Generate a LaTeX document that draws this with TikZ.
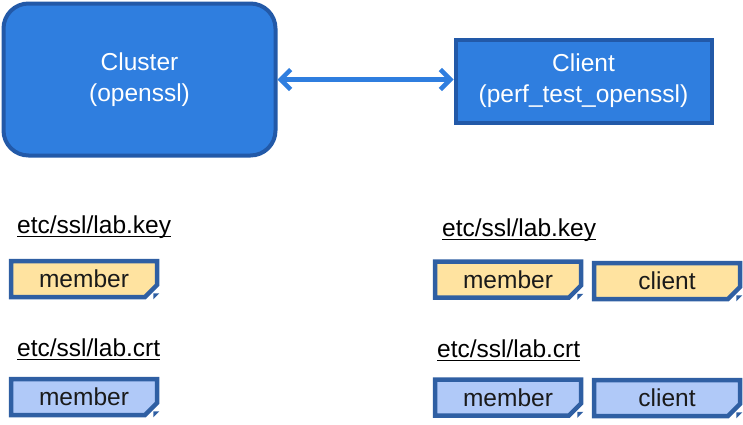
\documentclass[tikz,border=0pt]{standalone}
\usepackage{fontspec}
\setmainfont{Liberation Sans}
\usetikzlibrary{arrows.meta,shapes.misc,calc}

\definecolor{hostfill}{HTML}{2F7EDF}
\definecolor{hostline}{HTML}{2259A8}
\definecolor{fileline}{HTML}{2F5FA3}
\definecolor{keyfill}{HTML}{FFE3A0}
\definecolor{crtfill}{HTML}{B0C9F8}
\definecolor{filetext}{HTML}{1A1A1A}

\newcommand{\ulpath}[1]{\leavevmode\setbox0\hbox{#1}\dp0=0pt
  \vtop{\box0\kern2.5pt\hrule height 1.8pt}}

\tikzset{
  hostbox/.style={draw=hostline, fill=hostfill, line width=4pt, text=white,
    align=center, font=\fontsize{24.5}{31}\selectfont},
  filebox/.style={chamfered rectangle, chamfered rectangle corners=south east,
    chamfered rectangle xsep=6pt, chamfered rectangle ysep=6pt,
    draw=fileline, line width=4.5pt, minimum width=146pt, minimum height=36pt,
    inner sep=0pt, text=filetext, font=\fontsize{24.5}{30}\selectfont},
  keyfile/.style={filebox, fill=keyfill},
  crtfile/.style={filebox, fill=crtfill},
  fold/.style={fill=fileline},
  pathlabel/.style={anchor=base west, inner sep=0pt, font=\fontsize{24.5}{30}\selectfont},
  link/.style={draw=hostfill, line width=4.5pt,
    {Straight Barb[length=10pt,width=20pt]}-{Straight Barb[length=10pt,width=20pt]}}
}

\begin{document}
\begin{tikzpicture}[x=1pt,y=-1pt]
    \useasboundingbox (0,0) rectangle (743,424);

    %nodi
    \node[hostbox, rounded corners=25pt, minimum width=272pt, minimum height=152pt]
      (cluster) at (139.5,79.5) {Cluster\\(openssl)};
    \node[hostbox, minimum width=256pt, minimum height=83pt]
      (client) at (583.5,81) {Client\\(perf\_test\_openssl)};
    \draw[link] (cluster.east) -- (cluster.east -| client.west);

    %chiavi
    \node[pathlabel] (keyl) at (17,233) {\ulpath{etc/ssl/lab.key}};
    \node[keyfile] (keymemberl) at (84,279) {member};
    \node[pathlabel] (keyr) at (442,236) {\ulpath{etc/ssl/lab.key}};
    \node[keyfile] (keymemberr) at (508,279.5) {member};
    \node[keyfile] (keyclient) at (667,281) {client};

    %certificati
    \node[pathlabel] (crtl) at (17,356) {\ulpath{etc/ssl/lab.crt}};
    \node[crtfile] (crtmemberl) at (84,397) {member};
    \node[pathlabel] (crtr) at (437,357) {\ulpath{etc/ssl/lab.crt}};
    \node[crtfile] (crtmemberr) at (508,397.5) {member};
    \node[crtfile] (crtclient) at (667,398) {client};

    %angoli piegati
    \foreach \f in {keymemberl,keymemberr,keyclient,crtmemberl,crtmemberr,crtclient}
      \fill[fold] ($(\f.east |- \f.south)+(-6,0)$) -- ($(\f.east |- \f.south)+(0,-6)$)
        -- ($(\f.east |- \f.south)+(-6,-6)$) -- cycle;
\end{tikzpicture}
\end{document}
